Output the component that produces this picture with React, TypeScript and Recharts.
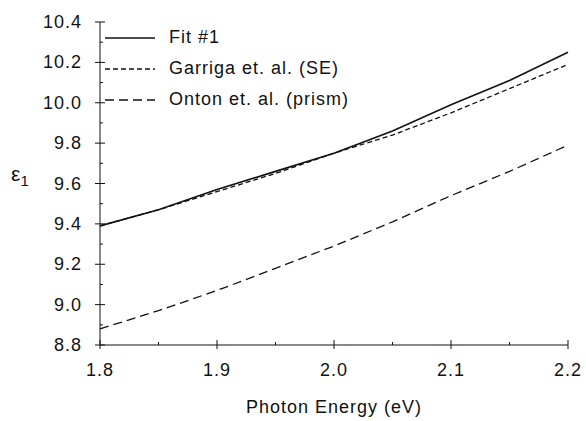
import React from 'react'
import { LineChart, Line, XAxis, YAxis } from 'recharts'

const energy = [1.8, 1.85, 1.9, 1.95, 2.0, 2.05, 2.1, 2.15, 2.2]
const fit = [9.39, 9.47, 9.57, 9.66, 9.75, 9.86, 9.99, 10.11, 10.25]
const garriga = [9.39, 9.47, 9.56, 9.65, 9.75, 9.84, 9.95, 10.07, 10.19]
const onton = [8.88, 8.97, 9.07, 9.18, 9.29, 9.41, 9.54, 9.66, 9.79]

const xTicks = [1.8, 1.85, 1.9, 1.95, 2.0, 2.05, 2.1, 2.15, 2.2]
const xMajor = [1.8, 1.9, 2.0, 2.1, 2.2]
const yTicks = [8.8, 8.9, 9.0, 9.1, 9.2, 9.3, 9.4, 9.5, 9.6, 9.7, 9.8, 9.9, 10.0, 10.1, 10.2, 10.3, 10.4]
const yMajor = [8.8, 9.0, 9.2, 9.4, 9.6, 9.8, 10.0, 10.2, 10.4]

const legendItems = [
  { name: 'Fit #1', dash: undefined },
  { name: 'Garriga et. al. (SE)', dash: '5 3' },
  { name: 'Onton et. al. (prism)', dash: '9 5' },
]

const data = energy.map((e, i) => ({
  energy: e,
  fit: fit[i],
  garriga: garriga[i],
  onton: onton[i],
}))

const FONT = 'Arial, "Liberation Sans", sans-serif'
const INK = '#111'

const isMajor = (list: number[], v: number) => list.some(m => Math.abs(m - v) < 1e-6)

function BottomTick(props: any) {
  const { x, y, payload } = props
  const major = isMajor(xMajor, payload.value)
  return (
    <g>
      <line x1={x} x2={x} y1={y - (major ? 5 : 3)} y2={y + (major ? 4 : 0)} stroke={INK} />
      {major && (
        <text x={x} y={y + 31} textAnchor="middle" fontSize={18} letterSpacing={1} fill={INK} fontFamily={FONT}>
          {payload.value.toFixed(1)}
        </text>
      )}
    </g>
  )
}

function TopTick(props: any) {
  const { x, y, payload } = props
  const major = isMajor(xMajor, payload.value)
  return <line x1={x} x2={x} y1={y} y2={y + (major ? 5 : 3)} stroke={INK} />
}

function LeftTick(props: any) {
  const { x, y, payload } = props
  const major = isMajor(yMajor, payload.value)
  return (
    <g>
      <line x1={x - (major ? 5 : 0)} x2={x + (major ? 5 : 3)} y1={y} y2={y} stroke={INK} />
      {major && (
        <text x={x - 18} y={y + 6} textAnchor="end" fontSize={18} letterSpacing={1} fill={INK} fontFamily={FONT}>
          {payload.value.toFixed(1)}
        </text>
      )}
    </g>
  )
}

function RightTick(props: any) {
  const { x, y, payload } = props
  const major = isMajor(yMajor, payload.value)
  return <line x1={x} x2={x - (major ? 5 : 3)} y1={y} y2={y} stroke={INK} />
}

function LegendBox() {
  return (
    <div style={{ position: 'absolute', left: 103, top: 22, fontFamily: FONT, fontSize: 18, letterSpacing: 1, color: INK }}>
      {legendItems.map(item => (
        <div key={item.name} style={{ display: 'flex', alignItems: 'center', height: 31 }}>
          <svg width={54} height={10} style={{ marginRight: 12 }}>
            <line x1={2} x2={52} y1={5} y2={5} stroke={INK} strokeWidth={1.3} strokeDasharray={item.dash} />
          </svg>
          <span>{item.name}</span>
        </div>
      ))}
    </div>
  )
}

export default function App() {
  return (
    <div style={{ position: 'absolute', left: 0, top: 0, width: 586, height: 421, background: '#fff' }}>
      <LineChart width={586} height={421} data={data} margin={{ top: 22, right: 18, bottom: 0, left: 0 }}>
        <XAxis
          dataKey="energy"
          type="number"
          domain={[1.8, 2.2]}
          ticks={xTicks}
          interval={0}
          height={76}
          tickSize={0}
          tickMargin={0}
          tickLine={false}
          stroke={INK}
          tick={<BottomTick />}
          label={{ value: 'Photon Energy (eV)', position: 'insideBottom', offset: 8, fontSize: 18, letterSpacing: 1, fill: INK, fontFamily: FONT }}
        />
        <XAxis
          xAxisId="top"
          orientation="top"
          dataKey="energy"
          type="number"
          domain={[1.8, 2.2]}
          ticks={xTicks}
          interval={0}
          height={0}
          tickSize={0}
          tickMargin={0}
          tickLine={false}
          stroke={INK}
          tick={<TopTick />}
        />
        <YAxis
          type="number"
          domain={[8.8, 10.4]}
          ticks={yTicks}
          interval={0}
          width={100}
          tickSize={0}
          tickMargin={0}
          tickLine={false}
          stroke={INK}
          tick={<LeftTick />}
        />
        <YAxis
          yAxisId="right"
          orientation="right"
          type="number"
          domain={[8.8, 10.4]}
          ticks={yTicks}
          interval={0}
          width={0}
          tickSize={0}
          tickMargin={0}
          tickLine={false}
          stroke={INK}
          tick={<RightTick />}
        />
        <Line type="linear" dataKey="fit" stroke={INK} strokeWidth={1.6} dot={false} isAnimationActive={false} />
        <Line type="linear" dataKey="garriga" stroke={INK} strokeWidth={1.3} strokeDasharray="5 3" dot={false} isAnimationActive={false} />
        <Line type="linear" dataKey="onton" stroke={INK} strokeWidth={1.3} strokeDasharray="9 5" dot={false} isAnimationActive={false} />
      </LineChart>
      <LegendBox />
      <div style={{ position: 'absolute', left: 11, top: 162, fontFamily: FONT, fontSize: 21, color: INK }}>
        ε<sub style={{ fontSize: 15 }}>1</sub>
      </div>
    </div>
  )
}
